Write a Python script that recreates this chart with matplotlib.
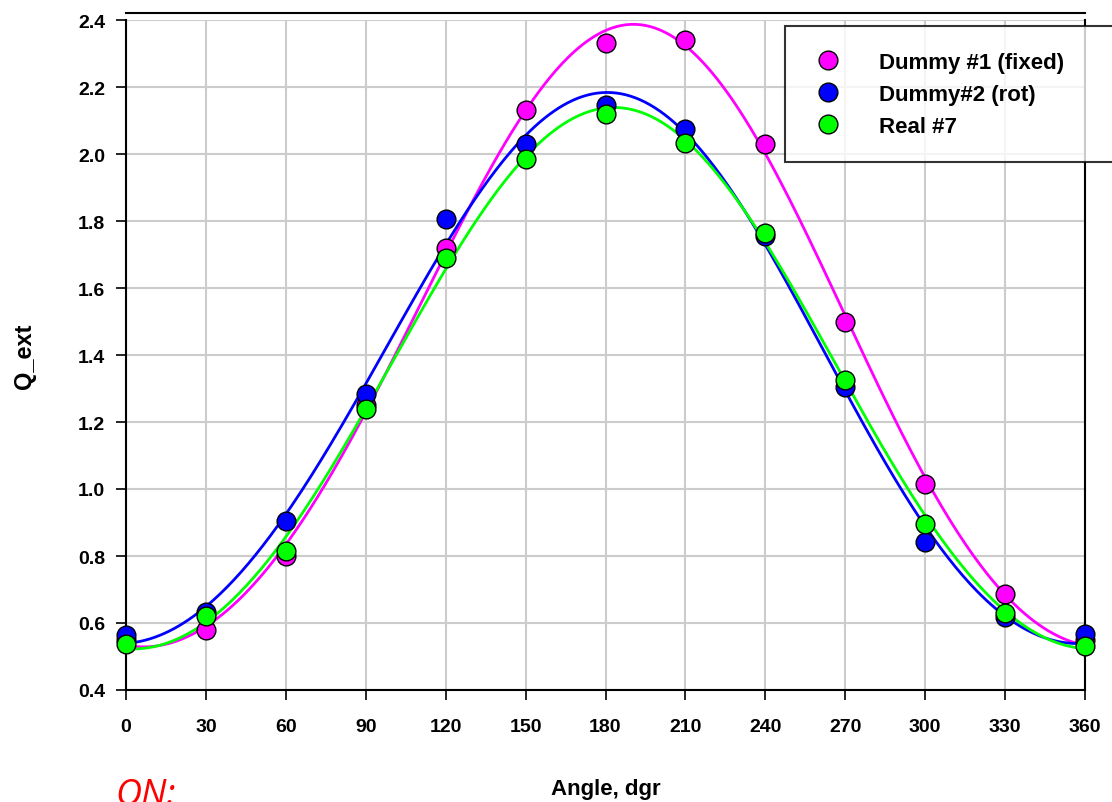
import numpy as np
import matplotlib
matplotlib.use('Agg')
import matplotlib.pyplot as plt

# Measured extinction vs. rotation angle
angle = np.array([0, 30, 60, 90, 120, 150, 180, 210, 240, 270, 300, 330, 360])
q_dummy1 = np.array([0.55, 0.58, 0.80, 1.25, 1.72, 2.13, 2.33, 2.34, 2.03, 1.50, 1.015, 0.687, 0.55])
q_dummy2 = np.array([0.564, 0.633, 0.904, 1.284, 1.806, 2.03, 2.146, 2.075, 1.755, 1.304, 0.842, 0.618, 0.567])
q_real7 = np.array([0.537, 0.621, 0.815, 1.239, 1.69, 1.985, 2.119, 2.033, 1.764, 1.325, 0.896, 0.630, 0.531])

labels = ['Dummy #1 (fixed)', 'Dummy#2 (rot)', 'Real #7']
colors = ['#ff00ff', '#0000ff', '#00ff00']
x_ticks = np.arange(0, 361, 30)
y_ticks = np.arange(0.4, 2.41, 0.2)


def harmonic_fit(x, y, xs):
    """least-squares fit with two harmonics (periodic in 360 deg)"""
    r = np.radians(x)
    A = np.column_stack([np.ones_like(r), np.cos(r), np.sin(r), np.cos(2*r), np.sin(2*r)])
    c, *_ = np.linalg.lstsq(A, y, rcond=None)
    rs = np.radians(xs)
    B = np.column_stack([np.ones_like(rs), np.cos(rs), np.sin(rs), np.cos(2*rs), np.sin(2*rs)])
    return B @ c


fig = plt.figure(figsize=(11.12, 8.03), dpi=100)
ax = fig.add_axes([126/1112, 1-691/803, (1085-126)/1112, (691-21)/803])
# spine position first: it resets the axis ticks
for s in ax.spines.values():
    s.set_linewidth(1.5)
ax.spines['top'].set_position(('outward', 5))

xs = np.linspace(0, 360, 400)
series = [q_dummy1, q_dummy2, q_real7]
for y, col in zip(series, colors):
    ax.plot(xs, harmonic_fit(angle, y, xs), color=col, lw=2, zorder=3)
for y, col, lab in zip(series, colors, labels):
    ax.plot(angle, y, 'o', color=col, mec='black', mew=1, ms=13.5, label=lab,
            zorder=4, clip_on=False)

ax.set_xlim(0, 360)
ax.set_ylim(0.4, 2.4)
ax.set_xticks(x_ticks)
ax.set_yticks(y_ticks)
ax.tick_params(axis='both', direction='out', length=7, width=1.2, colors='black')
ax.tick_params(axis='x', pad=13, top=False)
ax.tick_params(axis='y', pad=8)
ax.set_yticklabels([f'{v:.1f}' for v in y_ticks], fontsize=14, fontweight='bold',
                   family='Liberation Sans')
ax.set_xticklabels([str(v) for v in x_ticks], fontsize=14, fontweight='bold',
                   family='Liberation Sans')
ax.grid(True, color='#cccccc', lw=1.5)
ax.set_axisbelow(True)

ax.set_xlabel('Angle, dgr', fontsize=16, fontweight='bold',
              family='Liberation Sans', labelpad=31)
ax.set_ylabel('Q_ext', fontsize=17, fontweight='bold', family='Liberation Sans', labelpad=30)

leg = ax.legend(loc='upper left', mode='expand',
                bbox_to_anchor=(785/1112, 1-160/803, (1125-785)/1112, 133/803),
                bbox_transform=fig.transFigure, frameon=True, fancybox=False,
                borderpad=1.15, labelspacing=0.5, handletextpad=1.5, borderaxespad=0,
                handlelength=1.6, prop={'family': 'Liberation Sans', 'weight': 'bold', 'size': 16})
leg.get_frame().set_edgecolor('black')
leg.get_frame().set_linewidth(1.5)
leg.set_zorder(10)

fig.text(115/1112, 1-778/803, 'ON:', color='red', fontsize=26, style='italic',
         family='Open Sans', va='top', ha='left')

fig.savefig('out.png', dpi=100)
